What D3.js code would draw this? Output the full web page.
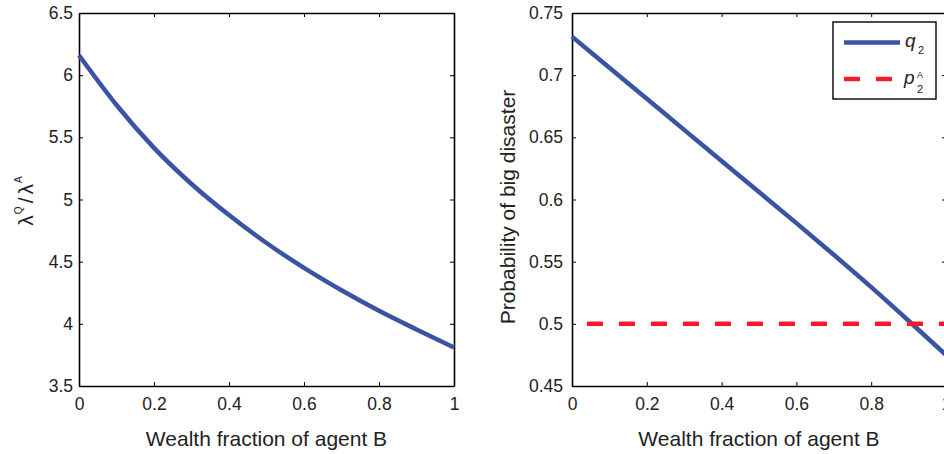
<!DOCTYPE html>
<html>
<head>
<meta charset="utf-8">
<script src="https://cdn.jsdelivr.net/npm/d3@7"></script>
<style>
  body { margin: 0; background: #fff; }
  text { font-family: "Liberation Sans", Arial, Helvetica, sans-serif; }
</style>
</head>
<body>
<script>
// wealth fraction of agent B (x axis of both panels)
var wealth = [0, 0.1, 0.2, 0.3, 0.4, 0.5, 0.6, 0.7, 0.8, 0.9, 1.0];
// left panel: lambda^Q / lambda^A
var lambdaRatio = [6.16, 5.76, 5.415, 5.125, 4.875, 4.65, 4.45, 4.27, 4.105, 3.955, 3.81];
// right panel: q2 and p2^A
var q2 = [0.731, 0.706, 0.681, 0.656, 0.631, 0.606, 0.581, 0.5555, 0.5295, 0.5025, 0.475];
var p2Wealth = [0.04, 1.0];
var p2A = [0.5, 0.5];

var xTicks = [0, 0.2, 0.4, 0.6, 0.8, 1];
var leftTicks = [3.5, 4, 4.5, 5, 5.5, 6, 6.5];
var rightTicks = [0.45, 0.5, 0.55, 0.6, 0.65, 0.7, 0.75];

var blue = '#3a54a4';
var red = '#ee1f28';

var svg = d3.select('body').append('svg')
    .attr('width', 944)
    .attr('height', 454);

function panel(left, right, yDomain, yTicks, yPad) {
    var x = d3.scaleLinear().domain([0, 1]).range([left, right]);
    var y = d3.scaleLinear().domain(yDomain).range([386, 13]);
    var fmt = function(d){ return String(d); };

    var bottom = svg.append('g').attr('transform', 'translate(0,386)')
        .call(d3.axisBottom(x).tickValues(xTicks).tickFormat(fmt)
            .tickSizeInner(-4).tickSizeOuter(0).tickPadding(12));
    var top = svg.append('g').attr('transform', 'translate(0,13)')
        .call(d3.axisTop(x).tickValues(xTicks).tickFormat('')
            .tickSizeInner(-4).tickSizeOuter(0));
    var lft = svg.append('g').attr('transform', 'translate(' + left + ',0)')
        .call(d3.axisLeft(y).tickValues(yTicks).tickFormat(fmt)
            .tickSizeInner(-4).tickSizeOuter(0).tickPadding(yPad));
    var rgt = svg.append('g').attr('transform', 'translate(' + right + ',0)')
        .call(d3.axisRight(y).tickValues(yTicks).tickFormat('')
            .tickSizeInner(-4).tickSizeOuter(0));

    [bottom, top, lft, rgt].forEach(function(a){
        a.selectAll('.domain').attr('stroke', '#000').attr('stroke-width', 1.6);
        a.selectAll('.tick line').attr('stroke', '#000').attr('stroke-width', 1);
        a.selectAll('text').attr('fill', '#222').style('font-size', '17.5px')
            .style('font-family', '"Liberation Sans", Arial, sans-serif');
    });

    svg.append('text')
        .attr('x', (left + right) / 2)
        .attr('y', 446)
        .attr('text-anchor', 'middle')
        .attr('fill', '#222')
        .style('font-size', '21px')
        .text('Wealth fraction of agent B');

    return { x: x, y: y };
}

// ---- left panel
var p1 = panel(79, 454, [3.5, 6.5], leftTicks, 6);

svg.append('path')
    .datum(d3.zip(wealth, lambdaRatio))
    .attr('fill', 'none')
    .attr('stroke', blue)
    .attr('stroke-width', 4.5)
    .attr('d', d3.line()
        .x(function(d){ return p1.x(d[0]); })
        .y(function(d){ return p1.y(d[1]); })
        .curve(d3.curveMonotoneX));

var ylab1 = svg.append('text')
    .attr('transform', 'translate(33,201) rotate(-90)')
    .attr('text-anchor', 'middle')
    .attr('fill', '#222')
    .style('font-size', '21px');
ylab1.append('tspan').text('λ');
ylab1.append('tspan').attr('dx', 1).attr('dy', -11).style('font-size', '10px').text('Q');
ylab1.append('tspan').attr('dx', 3).attr('dy', 11).text('/');
ylab1.append('tspan').attr('dx', 3).text('λ');
ylab1.append('tspan').attr('dx', 1).attr('dy', -11).style('font-size', '10px').text('A');

// ---- right panel
var p2 = panel(572, 946, [0.45, 0.75], rightTicks, 9);

svg.append('path')
    .datum(d3.zip(wealth, q2))
    .attr('fill', 'none')
    .attr('stroke', blue)
    .attr('stroke-width', 4.5)
    .attr('d', d3.line()
        .x(function(d){ return p2.x(d[0]); })
        .y(function(d){ return p2.y(d[1]); })
        .curve(d3.curveMonotoneX));

svg.append('path')
    .datum(d3.zip(p2Wealth, p2A))
    .attr('fill', 'none')
    .attr('stroke', red)
    .attr('stroke-width', 4.5)
    .attr('stroke-dasharray', '16,16')
    .attr('d', d3.line()
        .x(function(d){ return p2.x(d[0]); })
        .y(function(d){ return p2.y(d[1]); }));

svg.append('text')
    .attr('transform', 'translate(515,207) rotate(-90)')
    .attr('text-anchor', 'middle')
    .attr('fill', '#222')
    .style('font-size', '21px')
    .text('Probability of big disaster');

// ---- legend
var legend = svg.append('g');
legend.append('rect')
    .attr('x', 833).attr('y', 22)
    .attr('width', 103).attr('height', 77)
    .attr('fill', '#fff')
    .attr('stroke', '#000')
    .attr('stroke-width', 1.4);

legend.append('line')
    .attr('x1', 844).attr('x2', 900)
    .attr('y1', 42.5).attr('y2', 42.5)
    .attr('stroke', blue).attr('stroke-width', 4.5);
legend.append('line')
    .attr('x1', 844).attr('x2', 892)
    .attr('y1', 79).attr('y2', 79)
    .attr('stroke', red).attr('stroke-width', 4.5)
    .attr('stroke-dasharray', '16,16');

function legendText(x, y, size, italic, s) {
    legend.append('text').attr('x', x).attr('y', y)
        .attr('fill', '#222')
        .style('font-size', size + 'px')
        .style('font-style', italic ? 'italic' : 'normal')
        .text(s);
}
legendText(905, 47, 19, true, 'q');
legendText(918, 54, 11, false, '2');
legendText(904, 84, 19, true, 'p');
legendText(917, 78, 9, false, 'A');
legendText(917, 93, 11, false, '2');
</script>
</body>
</html>
